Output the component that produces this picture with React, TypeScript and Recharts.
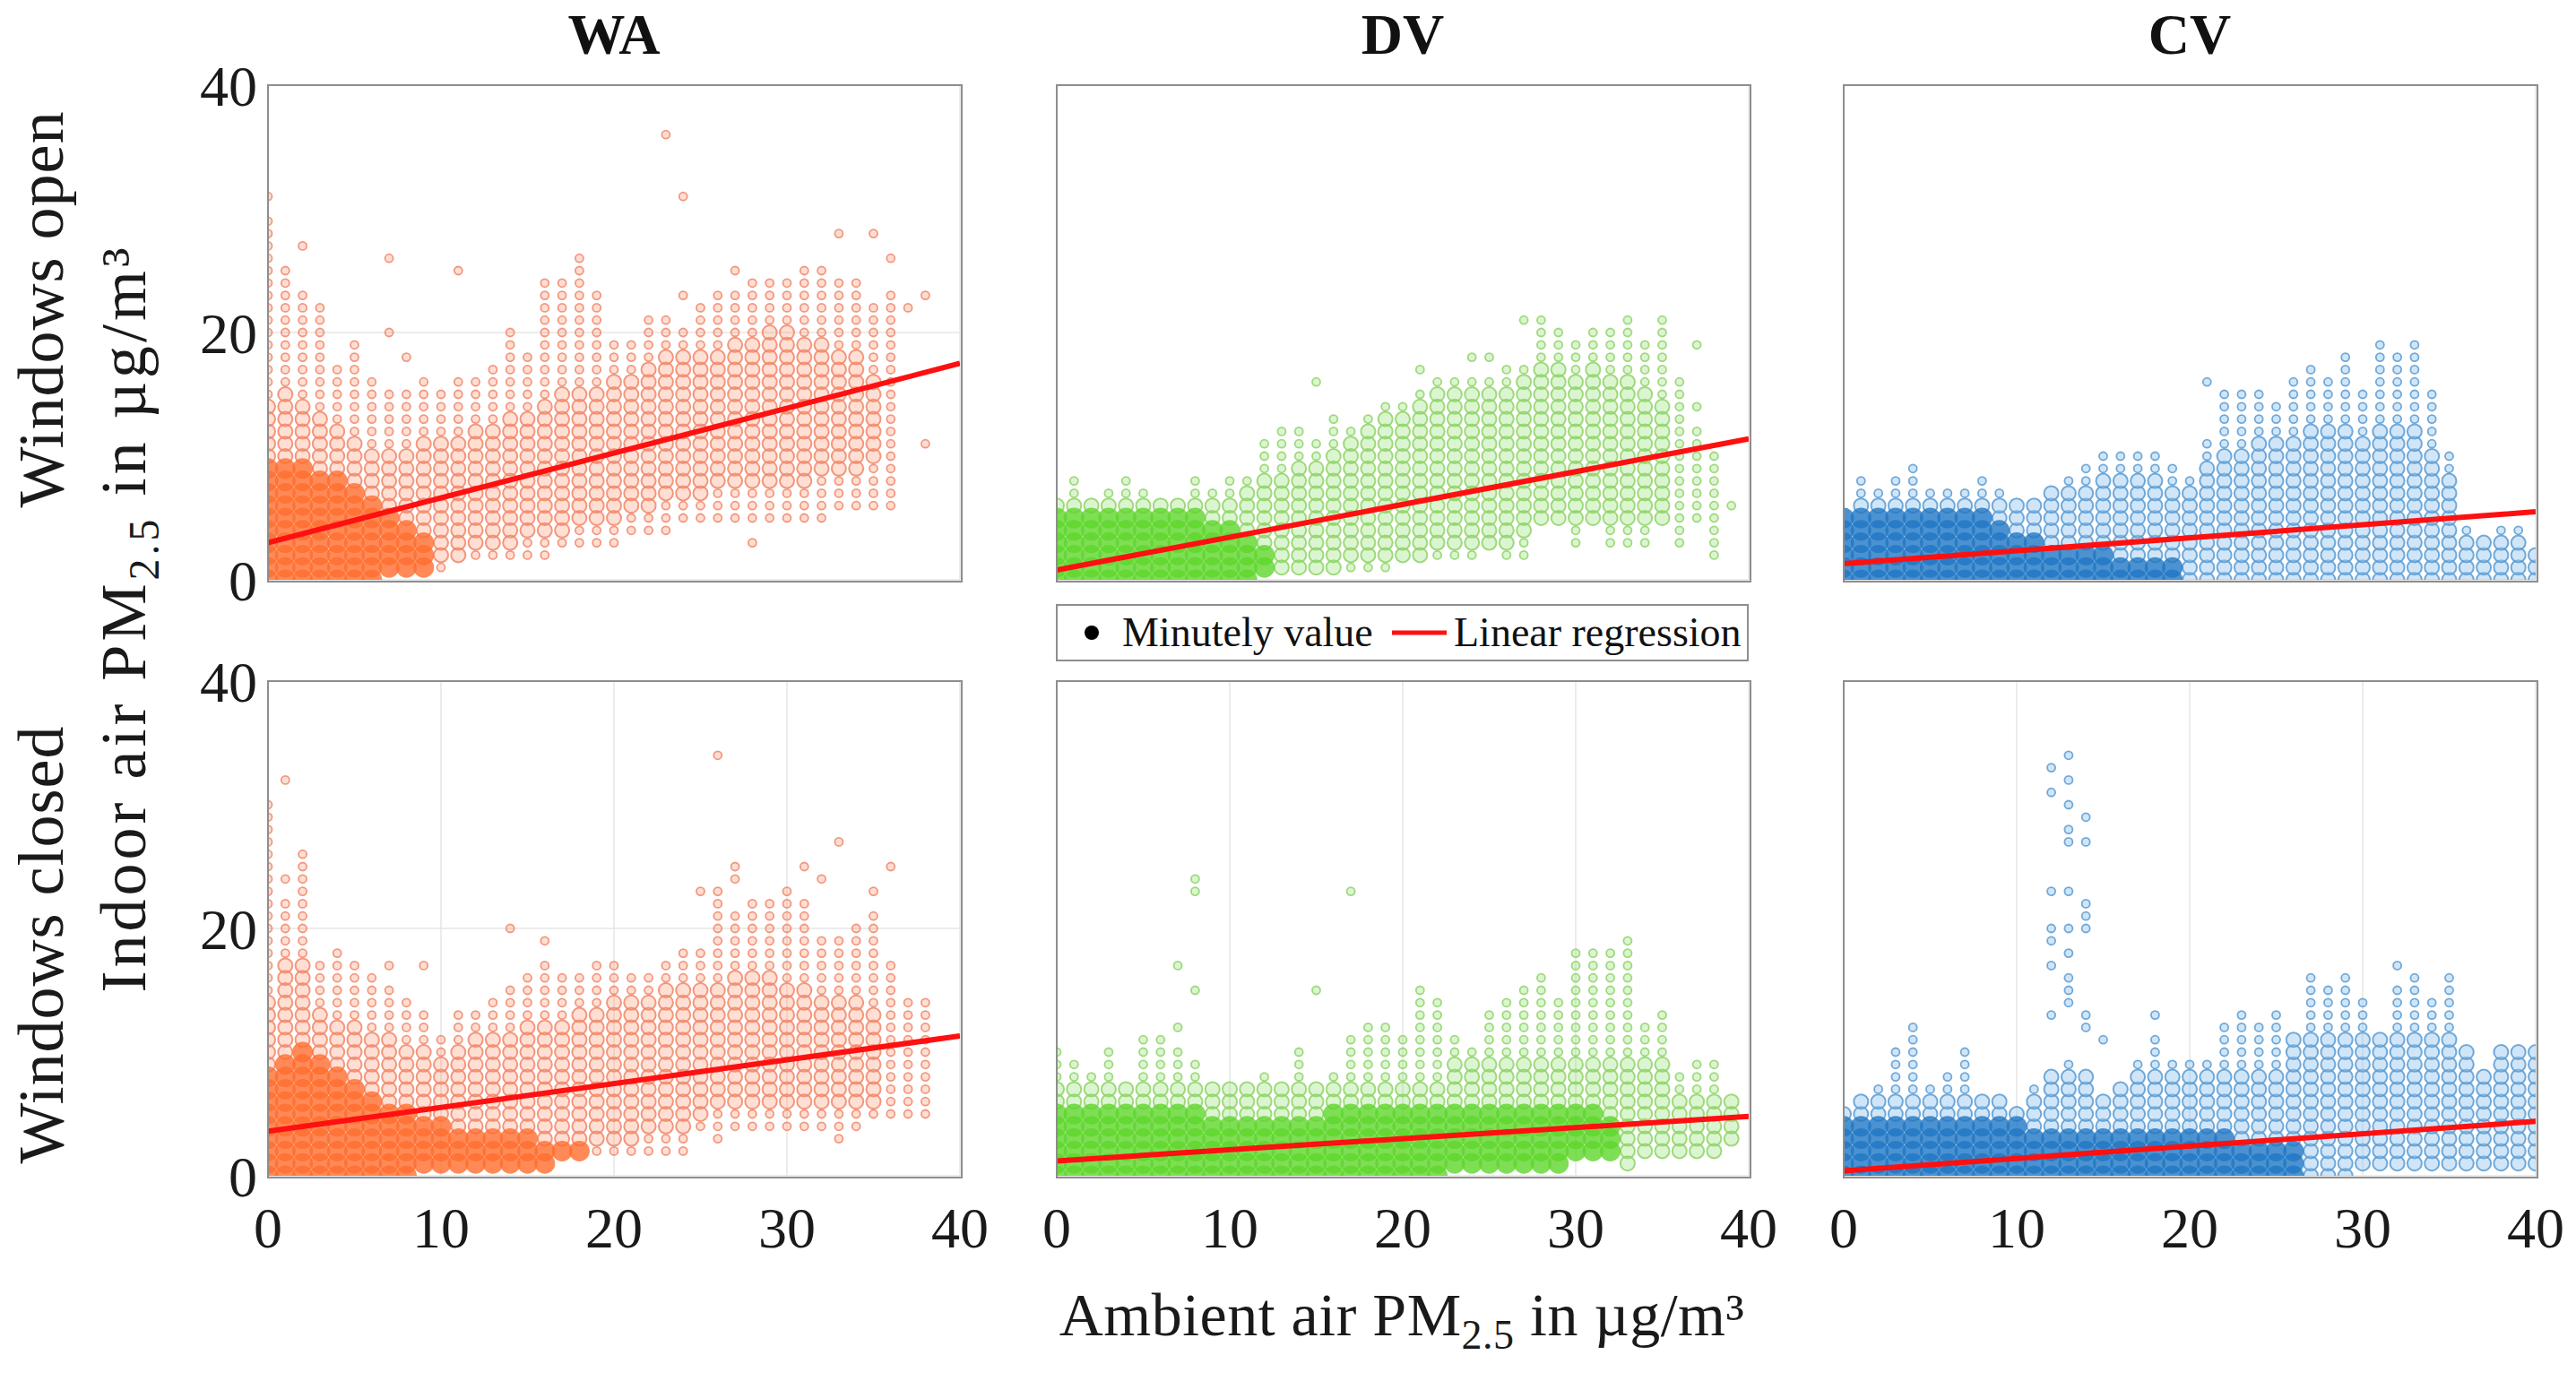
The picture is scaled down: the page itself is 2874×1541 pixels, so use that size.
import React from 'react';
import { ScatterChart, Scatter, XAxis, YAxis, CartesianGrid } from 'recharts';

// ---- axis ticks / labels ----
const TICKS_X = [0, 10, 20, 30, 40];
const TICKS_Y = [0, 20, 40];
const SYSTEMS = ['WA', 'DV', 'CV'];
const ROW_LABELS = ['Windows open', 'Windows closed'];

// ---- column envelopes (index = ambient PM2.5, -1 = no data) ----
// Windows open
const WA_OPEN_LO = [0,0,0,0,0,0,0,1,1,1,1,2,2,2,2,2,2,3,3,3,3,4,4,4,5,5,5,5,5,5,5,5,5,6,6,6,6,-1,-1,-1,-1];
const WA_OPEN_HI = [29,25,23,22,17,19,16,15,15,16,15,16,16,17,20,18,24,24,26,23,19,19,21,21,20,22,23,23,24,24,24,25,25,24,24,22,23,-1,-1,-1,-1];
const WA_OPEN_CORE_LO = [0,0,0,0,0,1,1,1,2,2,2,2,3,3,3,4,4,4,5,5,5,6,6,7,7,7,8,8,8,8,8,8,9,9,9,10,-1,-1,-1,-1,-1];
const WA_OPEN_CORE_HI = [14,15,14,13,12,11,10,10,10,11,11,11,12,12,13,13,14,15,15,15,16,16,17,18,18,18,18,19,19,20,20,19,19,18,18,16,-1,-1,-1,-1,-1];
const WA_OPEN_SOLID = [9,9,9,8,8,7,6,5,4,3,-1,-1,-1,-1,-1,-1,-1,-1,-1,-1,-1,-1,-1,-1,-1,-1,-1,-1,-1,-1,-1,-1,-1,-1,-1,-1,-1,-1,-1,-1,-1];
const WA_OPEN_OUT_X = [0,2,7,7,8,11,23,24,24,27,28,33,35,36,37,38,38];
const WA_OPEN_OUT_Y = [31,27,26,20,18,25,36,31,23,25,3,28,28,26,22,23,11];

const DV_OPEN_LO = [0,0,0,0,0,0,0,0,0,0,0,0,1,1,1,1,1,1,1,1,2,2,2,2,2,3,2,2,5,5,3,5,3,3,3,5,3,5,2,6,-1];
const DV_OPEN_HI = [6,8,6,7,8,7,6,6,8,7,8,8,11,12,12,11,13,12,13,14,14,15,16,16,16,16,17,17,20,20,19,20,20,21,19,21,16,12,10,6,-1];
const DV_OPEN_CORE_LO = [0,0,0,0,0,0,0,0,0,0,0,0,1,1,1,1,1,2,2,2,2,2,3,3,3,3,3,4,5,5,5,5,5,5,5,5,-1,-1,-1,-1,-1];
const DV_OPEN_CORE_HI = [6,6,6,6,6,6,6,6,6,6,6,7,8,8,9,9,10,11,12,13,13,14,15,15,15,15,15,16,17,17,16,17,16,16,15,14,-1,-1,-1,-1,-1];
const DV_OPEN_SOLID = [5,5,5,5,5,5,5,5,5,4,4,3,2,-1,-1,-1,-1,-1,-1,-1,-1,-1,-1,-1,-1,-1,-1,-1,-1,-1,-1,-1,-1,-1,-1,-1,-1,-1,-1,-1,-1];
const DV_OPEN_OUT_X = [15,21,24,25,27,28,37,37];
const DV_OPEN_OUT_Y = [16,17,18,18,21,21,19,14];

const CV_OPEN_LO = [0,0,0,0,0,0,0,0,0,0,0,0,0,0,0,0,0,0,0,0,0,0,0,0,0,0,0,0,0,0,0,0,0,0,0,0,0,0,0,0,0];
const CV_OPEN_HI = [5,8,7,8,9,7,7,7,8,7,6,6,7,8,9,10,10,10,10,9,8,11,15,15,15,14,16,17,16,18,15,19,18,19,15,10,4,3,4,4,2];
const CV_OPEN_CORE_LO = [0,0,0,0,0,0,0,0,0,0,0,0,0,0,0,0,0,0,0,0,0,0,0,0,0,0,0,0,0,0,0,0,0,0,0,0,0,0,0,0,0];
const CV_OPEN_CORE_HI = [6,6,6,6,6,6,6,6,6,6,6,6,7,7,7,8,8,8,8,7,7,9,10,10,11,11,11,12,12,12,11,12,12,12,10,8,3,3,3,3,2];
const CV_OPEN_SOLID = [5,5,5,5,5,5,5,5,5,4,3,3,2,2,2,2,1,1,1,1,-1,-1,-1,-1,-1,-1,-1,-1,-1,-1,-1,-1,-1,-1,-1,-1,-1,-1,-1,-1,-1];
const CV_OPEN_OUT_X = [21];
const CV_OPEN_OUT_Y = [16];

// Windows closed
const WA_CLOSED_LO = [0,0,0,0,0,0,0,0,0,1,1,1,1,1,1,1,1,2,2,2,2,2,2,2,2,4,3,4,4,4,4,4,4,3,4,5,5,5,5,-1,-1];
const WA_CLOSED_HI = [30,22,26,17,18,17,16,15,14,13,11,13,13,14,15,16,17,16,16,17,17,16,16,17,18,18,23,21,22,22,23,22,19,19,20,21,17,14,14,-1,-1];
const WA_CLOSED_CORE_LO = [0,0,0,0,0,0,0,0,0,1,1,1,1,2,2,2,2,3,3,3,3,3,4,4,4,5,6,6,6,6,6,6,6,6,6,6,-1,-1,-1,-1,-1];
const WA_CLOSED_CORE_HI = [14,17,17,13,12,12,11,11,10,10,9,10,11,11,11,12,12,12,13,13,14,14,14,15,15,15,15,16,16,16,15,15,14,14,14,13,-1,-1,-1,-1,-1];
const WA_CLOSED_SOLID = [8,9,10,9,8,7,6,5,5,4,4,3,3,3,3,3,2,2,2,-1,-1,-1,-1,-1,-1,-1,-1,-1,-1,-1,-1,-1,-1,-1,-1,-1,-1,-1,-1,-1,-1];
const WA_CLOSED_OUT_X = [1,1,7,9,14,16,25,26,27,27,31,32,33,35,36];
const WA_CLOSED_OUT_Y = [32,24,17,17,20,19,23,34,25,24,25,24,27,23,25];

const DV_CLOSED_LO = [0,0,0,0,0,0,0,0,0,0,0,0,0,0,0,0,0,0,0,0,0,0,0,1,1,1,1,1,1,1,2,2,2,1,2,2,2,2,2,3,-1];
const DV_CLOSED_HI = [10,9,8,10,7,11,11,10,9,7,7,7,8,7,10,7,8,11,12,12,11,14,14,11,10,13,14,15,16,14,18,18,18,19,12,13,8,9,9,6,-1];
const DV_CLOSED_CORE_LO = [0,0,0,0,0,0,0,0,0,0,0,0,0,0,0,0,0,0,0,0,0,0,0,1,1,1,1,1,1,1,1,1,1,1,1,1,2,2,2,2,-1];
const DV_CLOSED_CORE_HI = [7,7,7,7,7,7,7,7,7,7,7,7,7,7,7,7,7,7,7,7,7,7,7,9,9,9,9,9,9,9,9,9,9,9,9,9,6,6,6,6,-1];
const DV_CLOSED_SOLID = [5,5,5,5,5,5,5,5,5,4,4,4,4,4,4,4,5,5,5,5,5,5,5,5,5,5,5,5,5,5,5,5,4,-1,-1,-1,-1,-1,-1,-1,-1];
const DV_CLOSED_OUT_X = [7,7,8,8,8,15,17,21];
const DV_CLOSED_OUT_Y = [17,12,24,23,15,15,23,15];

const CV_CLOSED_LO = [0,0,0,0,0,0,0,0,0,0,0,0,0,0,0,0,0,0,0,0,0,0,0,0,0,0,0,0,0,0,1,1,1,1,1,1,1,1,1,1,1];
const CV_CLOSED_HI = [5,6,7,10,12,7,8,10,6,6,5,7,8,9,8,6,7,9,11,9,9,9,12,13,12,13,11,16,15,16,14,11,15,16,14,16,10,8,10,10,10];
const CV_CLOSED_CORE_LO = [0,0,0,0,0,0,0,0,0,0,0,0,0,0,0,0,0,0,0,0,0,0,0,0,0,0,0,0,0,0,1,1,1,1,1,1,1,1,1,1,1];
const CV_CLOSED_CORE_HI = [6,6,6,6,6,6,6,6,6,6,6,6,8,8,8,8,8,8,8,8,8,8,8,8,8,8,11,11,11,11,11,11,11,11,11,11,10,10,10,10,10];
const CV_CLOSED_SOLID = [4,4,4,4,4,4,4,4,4,4,4,3,3,3,3,3,3,3,3,3,3,3,3,2,2,2,2,-1,-1,-1,-1,-1,-1,-1,-1,-1,-1,-1,-1,-1,-1];
const CV_CLOSED_OUT_X = [12,12,12,12,12,12,12,13,13,13,13,13,13,13,13,13,13,13,14,14,14,14,14,14,14,15,18,32];
const CV_CLOSED_OUT_Y = [33,31,23,20,19,17,13,34,32,30,28,27,23,20,18,16,15,14,29,27,22,21,20,13,12,11,13,17];

// ---- linear regression: indoor value at ambient 0 and at ambient 40 (WA, DV, CV) ----
const REG_OPEN_Y0 = [3.0, 0.8, 1.3];
const REG_OPEN_Y40 = [17.5, 11.4, 5.5];
const REG_CLOSED_Y0 = [3.6, 1.2, 0.4];
const REG_CLOSED_Y40 = [11.3, 4.8, 4.4];

// ---- styling ----
const FONT = "'Liberation Serif', 'Times New Roman', serif";
const COLORS = {
  WA: { solid: '#FF6D2E', stroke: '#F1876A', fill: 'rgba(255,140,100,0.28)' },
  DV: { solid: '#5ED62A', stroke: '#8FD468', fill: 'rgba(130,220,90,0.28)' },
  CV: { solid: '#1F77C4', stroke: '#5B9BD2', fill: 'rgba(150,200,240,0.45)' },
};
const PANEL_LEFT = [299, 1179, 2057];
const PANEL_TOP = [95, 760];
const PANEL_W = 772;
const PANEL_H = 552;
const Y_AXIS_W = 120;
const X_AXIS_H = 120;
const M_TOP = 50;
const M_RIGHT = 60;

const PANELS = [
  [
    { lo: WA_OPEN_LO, hi: WA_OPEN_HI, coreLo: WA_OPEN_CORE_LO, coreHi: WA_OPEN_CORE_HI, solid: WA_OPEN_SOLID, outX: WA_OPEN_OUT_X, outY: WA_OPEN_OUT_Y },
    { lo: DV_OPEN_LO, hi: DV_OPEN_HI, coreLo: DV_OPEN_CORE_LO, coreHi: DV_OPEN_CORE_HI, solid: DV_OPEN_SOLID, outX: DV_OPEN_OUT_X, outY: DV_OPEN_OUT_Y },
    { lo: CV_OPEN_LO, hi: CV_OPEN_HI, coreLo: CV_OPEN_CORE_LO, coreHi: CV_OPEN_CORE_HI, solid: CV_OPEN_SOLID, outX: CV_OPEN_OUT_X, outY: CV_OPEN_OUT_Y },
  ],
  [
    { lo: WA_CLOSED_LO, hi: WA_CLOSED_HI, coreLo: WA_CLOSED_CORE_LO, coreHi: WA_CLOSED_CORE_HI, solid: WA_CLOSED_SOLID, outX: WA_CLOSED_OUT_X, outY: WA_CLOSED_OUT_Y },
    { lo: DV_CLOSED_LO, hi: DV_CLOSED_HI, coreLo: DV_CLOSED_CORE_LO, coreHi: DV_CLOSED_CORE_HI, solid: DV_CLOSED_SOLID, outX: DV_CLOSED_OUT_X, outY: DV_CLOSED_OUT_Y },
    { lo: CV_CLOSED_LO, hi: CV_CLOSED_HI, coreLo: CV_CLOSED_CORE_LO, coreHi: CV_CLOSED_CORE_HI, solid: CV_CLOSED_SOLID, outX: CV_CLOSED_OUT_X, outY: CV_CLOSED_OUT_Y },
  ],
];
const REG = [
  [REG_OPEN_Y0, REG_OPEN_Y40],
  [REG_CLOSED_Y0, REG_CLOSED_Y40],
];

// split every column of minutely values into the sparse / dense / saturated groups
function buildPoints(p) {
  const small = [];
  const core = [];
  const solid = [];
  p.lo.forEach((l, x) => {
    const h = p.hi[x];
    if (l < 0 || h < 0) return;
    for (let y = l; y <= h; y++) {
      if (p.solid[x] >= 0 && y <= p.solid[x]) solid.push({ x, y });
      else if (p.coreLo[x] >= 0 && y >= p.coreLo[x] && y <= p.coreHi[x]) core.push({ x, y });
      else small.push({ x, y });
    }
  });
  const outliers = p.outX.map((x, i) => ({ x, y: p.outY[i] }));
  return { small: small.concat(outliers), core, solid };
}

const tickStyle = { fontSize: 64, fill: '#1a1a1a', fontFamily: FONT };

const Panel = ({ row, col }) => {
  const sys = SYSTEMS[col];
  const c = COLORS[sys];
  const pts = buildPoints(PANELS[row][col]);
  const reg = [
    { x: 0, y: REG[row][0][col] },
    { x: 40, y: REG[row][1][col] },
  ];
  return (
    <div style={{ position: 'absolute', left: PANEL_LEFT[col] - Y_AXIS_W, top: PANEL_TOP[row] - M_TOP }}>
      <ScatterChart
        width={Y_AXIS_W + PANEL_W + M_RIGHT}
        height={M_TOP + PANEL_H + X_AXIS_H}
        margin={{ top: M_TOP, right: M_RIGHT, bottom: 0, left: 0 }}
      >
        <CartesianGrid stroke="#e6e6e6" strokeWidth={1.5} />
        <XAxis
          type="number"
          dataKey="x"
          domain={[0, 40]}
          ticks={TICKS_X}
          interval={0}
          allowDataOverflow
          height={X_AXIS_H}
          axisLine={false}
          tickLine={false}
          tickSize={0}
          tickMargin={35}
          tick={row === 1 ? tickStyle : false}
        />
        <YAxis
          type="number"
          dataKey="y"
          domain={[0, 40]}
          ticks={TICKS_Y}
          interval={0}
          allowDataOverflow
          width={Y_AXIS_W}
          axisLine={false}
          tickLine={false}
          tickSize={0}
          tickMargin={12}
          tick={col === 0 ? tickStyle : false}
        />
        <Scatter
          data={pts.small}
          isAnimationActive={false}
          shape={(p) => (
            <circle cx={p.cx} cy={p.cy} r={4.5} fill={c.fill} stroke={c.stroke} strokeWidth={1.8} strokeOpacity={0.85} />
          )}
        />
        <Scatter
          data={pts.core}
          isAnimationActive={false}
          shape={(p) => (
            <circle cx={p.cx} cy={p.cy} r={8} fill={c.fill} stroke={c.stroke} strokeWidth={2} strokeOpacity={0.85} />
          )}
        />
        <Scatter
          data={pts.solid}
          isAnimationActive={false}
          shape={(p) => <circle cx={p.cx} cy={p.cy} r={11.5} fill={c.solid} fillOpacity={0.8} />}
        />
        <Scatter
          data={reg}
          isAnimationActive={false}
          line={{ stroke: '#FF1010', strokeWidth: 6 }}
          shape={() => <g />}
        />
      </ScatterChart>
      <div
        style={{
          position: 'absolute',
          left: Y_AXIS_W - 1,
          top: M_TOP - 1,
          width: PANEL_W,
          height: PANEL_H,
          border: '2px solid #8e8e8e',
          pointerEvents: 'none',
        }}
      />
    </div>
  );
};

const Pm = ({ sub = 48, shift = 15 }) => (
  <>
    PM
    <tspan dy={shift} fontSize={sub}>2.5</tspan>
    <tspan dy={-shift}> in µg/m³</tspan>
  </>
);

export default function App() {
  const cells = [];
  for (let r = 0; r < 2; r++) for (let c = 0; c < 3; c++) cells.push(<Panel key={`${r}-${c}`} row={r} col={c} />);

  return (
    <div style={{ position: 'absolute', left: 0, top: 0, width: 2874, height: 1541, background: '#fff', overflow: 'hidden' }}>
      {cells}
      <svg width={2874} height={1541} style={{ position: 'absolute', left: 0, top: 0, pointerEvents: 'none' }} fontFamily={FONT}>
        {SYSTEMS.map((s, i) => (
          <text key={s} x={PANEL_LEFT[i] + PANEL_W / 2} y={60} textAnchor="middle" fontSize={64} fontWeight="bold" fill="#111">
            {s}
          </text>
        ))}
        <text transform="translate(70,345) rotate(-90)" textAnchor="middle" fontSize={72} letterSpacing={1} fill="#1a1a1a">
          {ROW_LABELS[0]}
        </text>
        <text transform="translate(70,1054) rotate(-90)" textAnchor="middle" fontSize={72} letterSpacing={1} fill="#1a1a1a">
          {ROW_LABELS[1]}
        </text>
        <text transform="translate(162,690) rotate(-90)" textAnchor="middle" fontSize={72} letterSpacing={4} fill="#1a1a1a">
          Indoor air <Pm />
        </text>
        <text x={1564} y={1490} textAnchor="middle" fontSize={68} letterSpacing={0.5} fill="#1a1a1a">
          Ambient air <Pm sub={46} shift={15} />
        </text>

        {/* legend */}
        <rect x={1179} y={675} width={771} height={62} fill="#fff" stroke="#8e8e8e" strokeWidth={2} />
        <circle cx={1218} cy={706} r={8} fill="#000" />
        <text x={1252} y={721} fontSize={46} fill="#111">Minutely value</text>
        <line x1={1553} y1={706} x2={1614} y2={706} stroke="#FF1010" strokeWidth={5} />
        <text x={1622} y={721} fontSize={46} fill="#111">Linear regression</text>
      </svg>
    </div>
  );
}
